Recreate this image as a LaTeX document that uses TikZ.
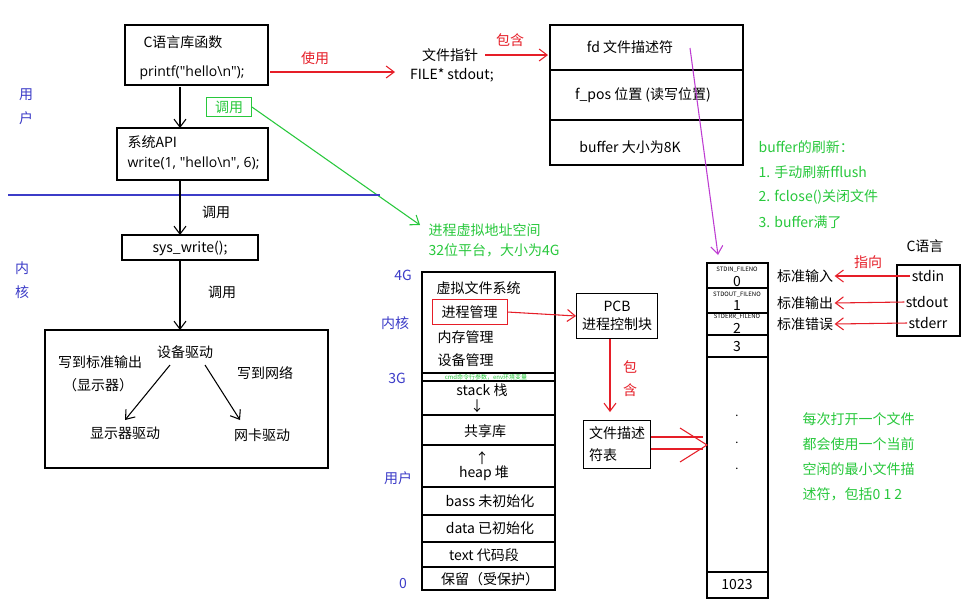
\documentclass[tikz,border=0pt]{standalone}
\usepackage{fontspec}
\setmainfont{Noto Sans CJK SC}
\newfontfamily\lat{Open Sans}
\usetikzlibrary{arrows.meta}
\definecolor{myred}{RGB}{230,30,40}
\definecolor{mygreen}{RGB}{40,200,60}
\definecolor{myblue}{RGB}{60,60,200}
\definecolor{mypurple}{RGB}{190,60,210}
\begin{document}
\begin{tikzpicture}[x=0.75pt,y=-0.75pt,
  box/.style={draw,line width=0.8pt},
  t/.style={font=\fontsize{10.5}{12}\selectfont,inner sep=1pt},
  tl/.style={t,anchor=west},
  g/.style={t,text=mygreen},
  gl/.style={g,anchor=west},
  bl/.style={t,text=myblue},
  r/.style={t,text=myred},
  ar/.style={-{Straight Barb[length=6pt,width=9pt]},line width=0.8pt},
  rar/.style={ar,myred},
  tiny/.style={font=\fontsize{4.5}{5}\selectfont,inner sep=0pt}]
\useasboundingbox (0,0) rectangle (975,608);
\fill[white] (0,0) rectangle (975,608);
% left top
\draw[box] (125,25) rectangle (268,85);
\node[t] (clib) at (183,42) {C语言库函数};
\node[t] (printf) at (192,73) {\lat printf("hello\textbackslash n");};
\coordinate (p1) at (270,72); \coordinate (p2) at (395,72);
\draw[rar] (p1) -- (p2);
\node[r] (use) at (315,58) {使用};
\node[t] (fp) at (450,55) {文件指针};
\node[t] (fs) at (452,75) {FILE* stdout;};
\coordinate (q1) at (485,55); \coordinate (q2) at (548,55);
\draw[rar] (q1) -- (q2);
\node[r] (inc) at (510,40) {包含};
\draw[box] (550,25) rectangle (743,165);
\draw[box] (550,70) -- (743,70) (550,120) -- (743,120);
\node[t] (fd) at (630,47) {fd 文件描述符};
\node[t] (fpos) at (643,95) {f\_pos 位置 (读写位置)};
\node[t] (buf) at (630,147) {buffer 大小为8K};
\coordinate (m1) at (690,48); \coordinate (m2) at (718,255);
\draw[ar,mypurple] (m1) -- (m2);
% user/kernel labels
\node[bl] (u1) at (26,95) {用}; \node[bl] (u2) at (26,118) {户};
\node[bl] (k1) at (22,268) {内}; \node[bl] (k2) at (22,292) {核};
\draw[ar] (180,87) -- (180,128);
\node[g,draw=mygreen,minimum width=34pt,minimum height=14pt] (call) at (229,107) {调用};
\coordinate (c2) at (420,225);
\draw[ar,mygreen] (call.east) -- (c2);
\node[gl] (vas) at (427,230) {进程虚拟地址空间};
\node[gl] (p32) at (427,250) {32位平台，大小为4G};
\draw[box] (117,128) rectangle (268,180);
\node[tl] (api) at (126,142) {系统API};
\node[tl] (wr) at (126,163) {\lat write(1, "hello\textbackslash n", 6);};
\draw[myblue,line width=0.8pt] (8,195) -- (380,195);
\draw[ar] (180,180) -- (180,235);
\node[t] (c2l) at (216,212) {调用};
\draw[box] (122,235) rectangle (258,260);
\node[t] (sw) at (190,248) {sys\_write();};
\draw[ar] (180,260) -- (180,330);
\node[t] (c3l) at (222,292) {调用};
\draw[box] (45,330) rectangle (328,468);
\node[t] (dd) at (185,352) {设备驱动};
\node[t] (wo) at (100,362) {写到标准输出};
\node[t] (disp) at (98,385) {（显示器）};
\node[t] (wn) at (265,373) {写到网络};
\node[t] (dispd) at (125,433) {显示器驱动};
\node[t] (nic) at (262,435) {网卡驱动};
\draw[ar] (170,365) -- (125,420);
\draw[ar] (205,365) -- (240,420);
% memory column
\draw[box] (422,272) rectangle (555,590);
\foreach \yy in {373,381,415,445,487,515,542,567} \draw[line width=0.8pt] (422,\yy) -- (555,\yy);
\node[bl] (g4) at (403,275) {4G};
\node[bl] (kk) at (395,323) {内核};
\node[bl] (g3) at (397,378) {3G};
\node[bl] (uu) at (398,478) {用户};
\node[bl] (g0) at (403,583) {0};
\node[tl] (vfs) at (435,288) {虚拟文件系统};
\node[tl,draw=myred,minimum height=19pt,minimum width=56pt] (pm) at (432,312) {进程管理};
\node[tl] (mm) at (436,337) {内存管理};
\node[tl] (dm) at (436,360) {设备管理};
\node[tiny,text=mygreen] (cmd) at (486,377) {cmd命令行参数，env环境变量};
\node[t] (stk) at (482,390) {stack 栈};
\node[t] (da) at (477,406) {↓};
\node[t] (sh) at (485,431) {共享库};
\node[t] (ua) at (482,458) {↑};
\node[t] (hp) at (484,473) {heap 堆};
\node[t] (bs) at (490,501) {bass 未初始化};
\node[t] (dt) at (490,528) {data 已初始化};
\node[t] (tx) at (484,555) {text 代码段};
\node[t] (rs) at (490,579) {保留（受保护）};
\node[t,draw,minimum width=61pt,minimum height=34pt,align=center] (pcb) at (617,316) {PCB\\[2pt]进程控制块};
\draw[rar] (pm.east) -- (pcb.west);
\node[t,draw,minimum width=50pt,minimum height=36pt,align=left] (fdt) at (617,444) {文件描述\\[4pt]符表};
\draw[rar] (pcb.south -| 610,0) -- (610,412);
\node[r] (b1) at (630,367) {包}; \node[r] (b2) at (630,390) {含};
% fd table
\draw[box] (707,263) rectangle (768,598);
\foreach \yy in {288,313,335,357,572} \draw[line width=0.8pt] (707,\yy) -- (768,\yy);
\node[tiny] (s0) at (737,270) {STDIN\_FILENO}; \node[t] (n0) at (737,282) {0};
\node[tiny] (s1) at (737,295) {STDOUT\_FILENO}; \node[t] (n1) at (737,306) {1};
\node[tiny] (s2) at (737,317) {STDERR\_FILENO}; \node[t] (n2) at (737,328) {2};
\node[t] (n3) at (737,347) {3};
\node[t,align=center] (dots) at (737,443) {$\cdot$\\[8pt]$\cdot$\\[8pt]$\cdot$};
\node[t] (n1023) at (737,584) {1023};
\coordinate (e1) at (707,445);
\draw[myred,line width=0.8pt] (fdt.east |- 0,437) -- (703,437) (fdt.east |- 0,449) -- (703,449);
\draw[myred,line width=0.8pt] (680,428) -- (e1) -- (680,462);
% C language
\node[t] (cl) at (925,246) {C语言};
\draw[box] (897,265) rectangle (960,336);
\node[t] (sin) at (928,276) {stdin};
\node[t] (sout) at (927,302) {stdout};
\node[t] (serr) at (928,323) {stderr};
\node[t] (l0) at (805,276) {标准输入};
\node[t] (l1) at (805,303) {标准输出};
\node[t] (l2) at (805,324) {标准错误};
\draw[rar] (sin.west) -- (l0.east);
\draw[rar] (sout.west) -- (l1.east);
\draw[rar] (serr.west) -- (l2.east);
\node[r] (zx) at (868,262) {指向};
% green notes
\node[gl] (bf0) at (757,147) {buffer的刷新：};
\node[gl] (bf1) at (757,172) {1. 手动刷新fflush};
\node[gl] (bf2) at (757,197) {2. fclose()关闭文件};
\node[gl] (bf3) at (757,222) {3. buffer满了};
\node[gl] (n_1) at (801,419) {每次打开一个文件};
\node[gl] (n_2) at (801,444) {都会使用一个当前};
\node[gl] (n_3) at (801,469) {空闲的最小文件描};
\node[gl] (n_4) at (801,494) {述符，包括0 1 2};
\end{tikzpicture}
\end{document}
